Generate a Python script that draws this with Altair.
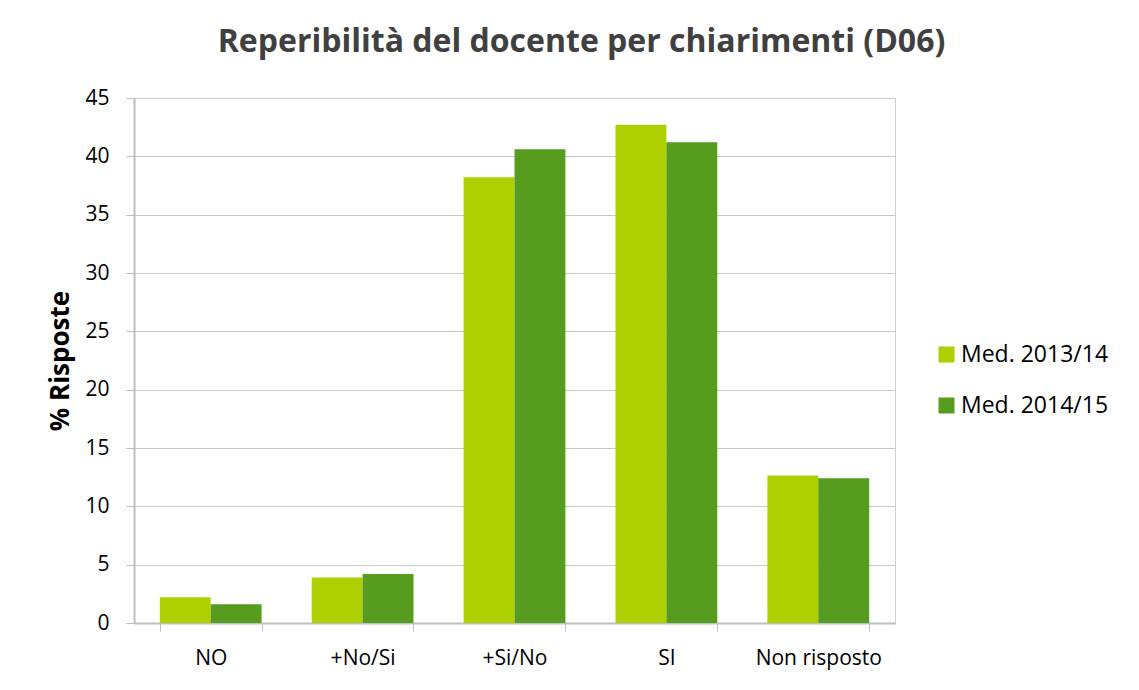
import altair as alt
import pandas as pd

categories = ["NO", "+No/Si", "+Si/No", "SI", "Non risposto"]
series_names = ["Med. 2013/14", "Med. 2014/15"]
values_2013 = [2.2, 3.9, 38.2, 42.7, 12.65]
values_2014 = [1.6, 4.2, 40.6, 41.2, 12.4]
colors = ["#AFD000", "#569D1F"]

rows = []
for c, a, b in zip(categories, values_2013, values_2014):
    rows.append({"cat": c, "serie": series_names[0], "val": a})
    rows.append({"cat": c, "serie": series_names[1], "val": b})
df = pd.DataFrame(rows)

FONT = "Open Sans"

chart = alt.Chart(df).mark_bar().encode(
    x=alt.X("cat:N", sort=categories, title=None,
            scale=alt.Scale(paddingInner=0.33, paddingOuter=0.17),
            axis=alt.Axis(labelAngle=0, tickBand="extent", labelFontSize=21,
                          labelColor="#000000", labelFont=FONT, labelPadding=16,
                          tickSize=8, tickColor="#BFBFBF", domainColor="#BFBFBF",
                          domainWidth=2, grid=False)),
    xOffset=alt.XOffset("serie:N", sort=series_names),
    y=alt.Y("val:Q", title="% Risposte",
            scale=alt.Scale(domain=[0, 45], nice=False),
            axis=alt.Axis(values=list(range(0, 50, 5)), labelFontSize=21,
                          labelColor="#000000", labelFont=FONT, labelPadding=17,
                          tickSize=8, tickColor="#BFBFBF", domainColor="#BFBFBF",
                          domainWidth=2, gridColor="#C8C8C8", gridWidth=1,
                          titleFontSize=26, titleFont=FONT, titleFontWeight="bold",
                          titleColor="#000000", titlePadding=11)),
    color=alt.Color("serie:N", sort=series_names,
                    scale=alt.Scale(domain=series_names, range=colors),
                    legend=alt.Legend(title=None, orient="none", legendX=801, legendY=245,
                                      symbolType="square", symbolSize=256,
                                      symbolStrokeWidth=0, labelFontSize=23,
                                      labelFont=FONT, labelColor="#000000",
                                      rowPadding=27, labelOffset=3)),
).properties(
    width=761, height=525,
    title=alt.TitleParams("Reperibilità del docente per chiarimenti (D06)",
                          fontSize=32, font=FONT, fontWeight="bold", color="#404040",
                          anchor="middle", dx=67, offset=28),
    autosize=alt.AutoSizeParams(type="none"),
    padding={"left": 126, "top": 90, "right": 236, "bottom": 57},
).configure_view(stroke="#D0D0D0", strokeWidth=1)

chart.save("out.html", embed_options={"renderer": "svg", "actions": False})
